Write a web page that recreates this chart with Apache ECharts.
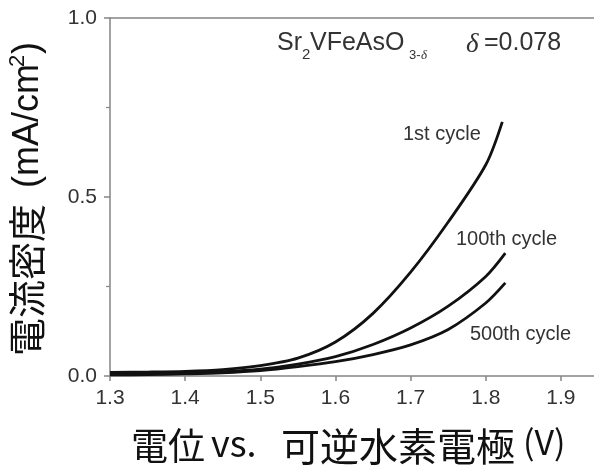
<!DOCTYPE html>
<html>
<head>
<meta charset="utf-8">
<script src="https://cdn.jsdelivr.net/npm/echarts@6/dist/echarts.min.js"></script>
<style>
html,body{margin:0;padding:0;background:#fff;}
#c{width:594px;height:473px;}
</style>
</head>
<body>
<div id="c"></div>
<script>
// Data
const xTicks = [1.3, 1.4, 1.5, 1.6, 1.7, 1.8, 1.9];
const yTicks = [0.0, 0.5, 1.0];
const seriesNames = ['1st cycle', '100th cycle', '500th cycle'];
const v1   = [1.30, 1.35, 1.40, 1.45, 1.50, 1.55, 1.60, 1.65, 1.70, 1.75, 1.80, 1.822];
const j1   = [0.010, 0.011, 0.013, 0.018, 0.029, 0.050, 0.095, 0.175, 0.290, 0.430, 0.590, 0.710];
const v100 = [1.30, 1.35, 1.40, 1.45, 1.50, 1.55, 1.60, 1.65, 1.70, 1.75, 1.80, 1.826];
const j100 = [0.006, 0.007, 0.009, 0.012, 0.019, 0.033, 0.054, 0.088, 0.134, 0.195, 0.278, 0.343];
const v500 = [1.30, 1.35, 1.40, 1.45, 1.50, 1.55, 1.60, 1.65, 1.70, 1.75, 1.80, 1.826];
const j500 = [0.003, 0.004, 0.006, 0.009, 0.015, 0.026, 0.040, 0.060, 0.087, 0.130, 0.204, 0.260];
const deltaText = 'δ=0.078';

const pair = (xs, ys) => xs.map((x, i) => [x, ys[i]]);
const chart = echarts.init(document.getElementById('c'), null, {renderer: 'canvas'});
const axisGrey = '#858585';
const txt = '#333';
const latin = '"Liberation Sans", Arial, sans-serif';
const cjk = '"Noto Sans CJK JP", sans-serif';

function line(name, data) {
  return {
    name, type: 'line', data, showSymbol: false, smooth: 0.3,
    lineStyle: {color: '#111', width: 2.8}, z: 3
  };
}

chart.setOption({
  animation: false,
  backgroundColor: '#fff',
  grid: {left: 110, right: 0, top: 18, bottom: 97, show: false, containLabel: false},
  xAxis: [{
    type: 'value', min: xTicks[0], max: 1.944, interval: 0.1,
    axisLine: {show: true, onZero: false, lineStyle: {color: axisGrey, width: 1.5}},
    axisTick: {show: true, inside: false, length: 5, lineStyle: {color: axisGrey, width: 1.5}},
    splitLine: {show: false},
    axisLabel: {
      margin: 12, color: txt, fontSize: 21, fontFamily: latin, showMaxLabel: false,
      formatter: v => xTicks.some(t => Math.abs(t - v) < 1e-6) ? v.toFixed(1) : ''
    }
  }, {
    type: 'value', position: 'top', min: xTicks[0], max: 1.944,
    axisLine: {show: true, onZero: false, lineStyle: {color: axisGrey, width: 1.5}},
    axisTick: {show: false}, axisLabel: {show: false}, splitLine: {show: false}
  }],
  yAxis: {
    type: 'value', min: 0, max: 1, interval: 0.5,
    axisLine: {show: true, lineStyle: {color: axisGrey, width: 1.5}},
    axisTick: {show: true, inside: false, length: 6, lineStyle: {color: axisGrey, width: 1.5}},
    minorTick: {show: true, splitNumber: 2, length: 4, lineStyle: {color: axisGrey, width: 1.2}},
    splitLine: {show: false},
    axisLabel: {
      margin: 13, color: txt, fontSize: 21, fontFamily: latin,
      formatter: v => yTicks.some(t => Math.abs(t - v) < 1e-6) ? v.toFixed(1) : ''
    }
  },
  series: [
    line(seriesNames[0], pair(v1, j1)),
    line(seriesNames[1], pair(v100, j100)),
    line(seriesNames[2], pair(v500, j500))
  ],
  graphic: [
    // formula label
    {type: 'text', x: 277, y: 31, style: {text: 'Sr', font: '25px ' + latin, fill: txt}},
    {type: 'text', x: 302, y: 47, style: {text: '2', font: '15px ' + latin, fill: txt}},
    {type: 'text', x: 310, y: 31, style: {text: 'VFeAsO', font: '25px ' + latin, fill: txt}},
    {type: 'text', x: 409, y: 49, style: {text: '3-', font: '13px ' + latin, fill: txt}},
    {type: 'text', x: 421, y: 49, style: {text: 'δ', font: 'italic 13px "Liberation Serif", serif', fill: txt}},
    {type: 'text', x: 466, y: 31, style: {text: deltaText.charAt(0), font: 'italic 27px "Liberation Serif", serif', fill: txt}},
    {type: 'text', x: 484, y: 31, style: {text: deltaText.slice(1), font: '25px ' + latin, fill: txt}},
    // curve labels
    {type: 'text', x: 403, y: 124, style: {text: seriesNames[0], font: '20px ' + latin, fill: txt}},
    {type: 'text', x: 456, y: 229, style: {text: seriesNames[1], font: '20px ' + latin, fill: txt}},
    {type: 'text', x: 470, y: 324, style: {text: seriesNames[2], font: '20px ' + latin, fill: txt}},
    // x-axis title
    {type: 'group', children: [
      {type: 'text', x: 131, y: 427, style: {text: '電位', font: '37px ' + cjk, fill: '#111'}},
      {type: 'text', x: 211, y: 425, style: {text: 'vs.', font: '36px ' + cjk, fill: '#111'}},
      {type: 'text', x: 281, y: 427, style: {text: '可逆水素電極', font: '39px ' + cjk, fill: '#111'}},
      {type: 'text', x: 523, y: 425, style: {text: '(V)', font: '34px ' + cjk, fill: '#111'}}
    ]},
    // y-axis title (rotated, reads bottom to top)
    {type: 'group', x: 8, y: 356, rotation: Math.PI / 2, children: [
      {type: 'text', x: 0, y: 0, style: {text: '電流密度', font: '38px ' + cjk, fill: '#111'}},
      {type: 'text', x: 168, y: 2, style: {text: '(mA/cm', font: '36px ' + latin, fill: '#111'}},
      {type: 'text', x: 289, y: -1, style: {text: '2', font: '22px ' + latin, fill: '#111'}},
      {type: 'text', x: 302, y: 2, style: {text: ')', font: '36px ' + latin, fill: '#111'}}
    ]}
  ]
});
</script>
</body>
</html>
